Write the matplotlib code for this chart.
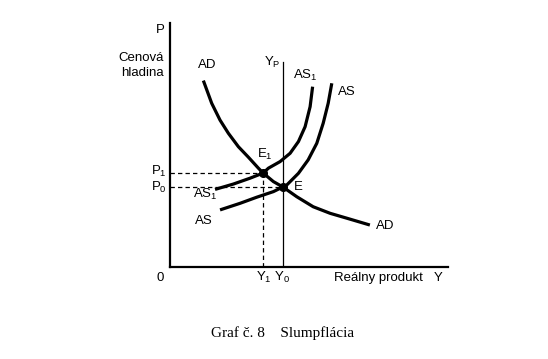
import matplotlib
matplotlib.use("Agg")
import matplotlib.pyplot as plt

plt.rcParams["font.family"] = ["Liberation Sans", "DejaVu Sans"]
plt.rcParams["mathtext.fontset"] = "custom"
plt.rcParams["mathtext.rm"] = "Liberation Sans"
plt.rcParams["mathtext.it"] = "Liberation Sans"

ad_y = [1.20, 1.50, 1.80, 2.10, 2.46, 2.82, 3.18, 3.35, 3.72, 4.06,
        4.56, 5.15, 5.76, 6.36, 7.19]
ad_p = [7.64, 6.71, 6.02, 5.48, 4.93, 4.50, 4.05, 3.85, 3.50, 3.28,
        2.88, 2.47, 2.20, 2.00, 1.72]

as_y = [1.80, 2.52, 3.12, 3.72, 4.06, 4.20, 4.62, 4.97, 5.28, 5.51, 5.69, 5.82]
as_p = [2.34, 2.61, 2.86, 3.09, 3.28, 3.36, 3.84, 4.39, 5.07, 5.89, 6.71, 7.53]

as1_y = [1.62, 2.28, 2.88, 3.35, 3.54, 3.96, 4.32, 4.62, 4.86, 5.04, 5.13]
as1_p = [3.18, 3.40, 3.64, 3.85, 4.05, 4.32, 4.66, 5.14, 5.75, 6.57, 7.39]

y_pot = 4.06
yp_top = 8.4
p0, p1 = 3.28, 3.85
y0, y1 = 4.06, 3.35

fig = plt.figure(figsize=(5.48, 3.59), dpi=100)
ax = fig.add_axes([170 / 548, 92 / 359, 278 / 548, 244 / 359])
ax.set_xlim(0, 10)
ax.set_ylim(0, 10)
for side in ["top", "right"]:
    ax.spines[side].set_visible(False)
for side in ["left", "bottom"]:
    ax.spines[side].set_linewidth(1.6)
ax.set_xticks([])
ax.set_yticks([])

curve = dict(color="black", lw=2.3, solid_capstyle="butt", solid_joinstyle="round")
ax.plot(ad_y, ad_p, **curve)
ax.plot(as_y, as_p, **curve)
ax.plot(as1_y, as1_p, **curve)
ax.plot([y_pot, y_pot], [0, yp_top], color="black", lw=0.9)

dash = (0, (3.5, 2.5))
ax.plot([0, y1], [p1, p1], color="black", lw=0.9, linestyle=dash)
ax.plot([0, y0], [p0, p0], color="black", lw=0.9, linestyle=dash)
ax.plot([y1, y1], [0, p1], color="black", lw=0.9, linestyle=dash)

ax.plot([y1, y0], [p1, p0], "o", color="black", ms=5.5)

fs = 9.5
kw = dict(fontsize=fs, clip_on=False, va="center")
ax.text(-0.36, 9.71, "P", ha="center", **kw)
ax.text(-0.22, 8.57, "Cenová", ha="right", **kw)
ax.text(-0.22, 7.95, "hladina", ha="right", **kw)
ax.text(1.33, 8.28, "AD", ha="center", **kw)
ax.text(3.67, 8.4, "Y$_\\mathrm{P}$", ha="center", **kw)
ax.text(4.86, 7.87, "AS$_1$", ha="center", **kw)
ax.text(6.37, 7.17, "AS", ha="center", **kw)
ax.text(3.42, 4.63, "E$_1$", ha="center", **kw)
ax.text(4.6, 3.28, "E", ha="center", **kw)
ax.text(-0.4, 3.90, "P$_1$", ha="center", **kw)
ax.text(-0.4, 3.28, "P$_0$", ha="center", **kw)
ax.text(1.26, 2.99, "AS$_1$", ha="center", **kw)
ax.text(1.22, 1.89, "AS", ha="center", **kw)
ax.text(7.73, 1.68, "AD", ha="center", **kw)
ax.text(-0.36, -0.45, "0", ha="center", **kw)
ax.text(3.71, -0.43, "Y$_1$ Y$_0$", ha="center", **kw)
ax.text(5.9, -0.45, "Reálny produkt", ha="left", **kw)
ax.text(9.64, -0.45, "Y", ha="center", **kw)

fig.text(0.516, 0.072, "Graf č. 8    Slumpflácia", ha="center", va="center",
         fontsize=11, family=["Liberation Serif", "DejaVu Serif"])

fig.savefig("out.png", dpi=100)
